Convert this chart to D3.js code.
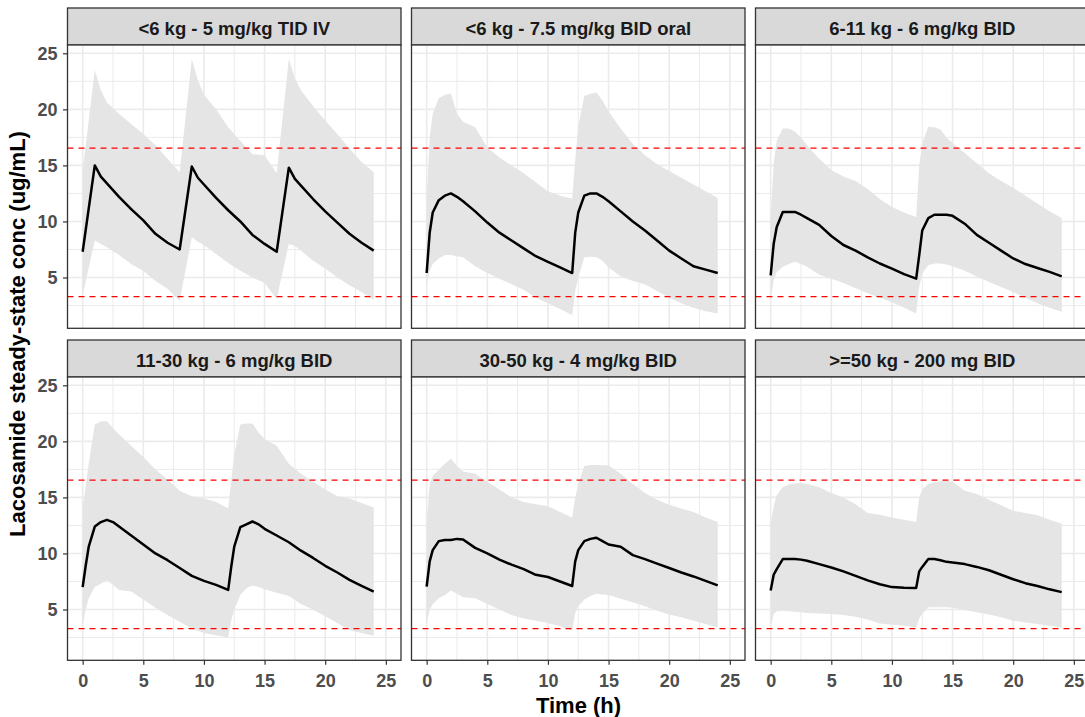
<!DOCTYPE html>
<html>
<head>
<meta charset="utf-8">
<script src="https://cdn.jsdelivr.net/npm/d3@7"></script>
<style>
  html, body { margin: 0; padding: 0; background: #ffffff; }
  svg { display: block; font-family: "Liberation Sans", Arial, sans-serif; }
</style>
</head>
<body>
<div id="chart"></div>
<script>
// ---------------- DATA ----------------
const panelTitles = [
  "<6 kg - 5 mg/kg TID IV",
  "<6 kg - 7.5 mg/kg BID oral",
  "6-11 kg - 6 mg/kg BID",
  "11-30 kg - 6 mg/kg BID",
  "30-50 kg - 4 mg/kg BID",
  ">=50 kg - 200 mg BID"
];

const xTicks = [0, 5, 10, 15, 20, 25];
const yTicks = [5, 10, 15, 20, 25];
const refLines = [16.55, 3.3];

// time grids (h)
const timeTID = [0, 1, 1.5, 2, 3, 4, 5, 6, 7, 8, 9, 9.5, 10, 11, 12, 13, 14, 15, 16, 17, 17.5, 18, 19, 20, 21, 22, 23, 24];
const timeBID = [0, 0.25, 0.5, 1, 1.5, 2, 2.5, 3, 4, 5, 6, 7, 8, 9, 10, 11, 12, 12.25, 12.5, 13, 13.5, 14, 14.5, 15, 16, 17, 18, 19, 20, 21, 22, 23, 24];

// Panel 1: <6 kg - 5 mg/kg TID IV
const p1Median = [7.3, 15.0, 14.0, 13.4, 12.2, 11.1, 10.1, 8.9, 8.1, 7.5, 14.9, 13.9, 13.3, 12.1, 11.0, 10.0, 8.8, 8.0, 7.3, 14.8, 13.8, 13.2, 12.0, 10.9, 9.9, 8.9, 8.1, 7.4];
const p1Lower  = [3.4, 8.3, 8.0, 7.7, 7.0, 6.2, 5.6, 4.7, 4.0, 2.9, 8.6, 8.2, 7.9, 7.1, 6.3, 5.6, 5.0, 4.5, 3.1, 8.0, 7.8, 7.4, 6.5, 5.8, 5.0, 4.3, 3.7, 3.0];
const p1Upper  = [14.5, 23.5, 21.7, 20.6, 19.6, 18.7, 17.8, 16.8, 15.6, 14.4, 24.5, 22.6, 21.3, 20.0, 18.4, 17.2, 16.0, 15.9, 14.3, 24.5, 22.8, 21.7, 20.3, 19.0, 17.8, 16.5, 15.3, 14.4];

// Panel 2: <6 kg - 7.5 mg/kg BID oral
const p2Median = [5.4, 9.0, 10.8, 11.9, 12.3, 12.5, 12.2, 11.8, 10.9, 9.9, 9.0, 8.3, 7.6, 6.9, 6.4, 5.9, 5.4, 9.0, 10.8, 12.3, 12.5, 12.5, 12.2, 11.8, 10.9, 10.0, 9.2, 8.3, 7.4, 6.7, 6.0, 5.7, 5.4];
const p2Lower  = [4.4, 5.6, 6.2, 6.7, 7.0, 7.0, 6.9, 6.8, 6.0, 5.4, 4.9, 4.4, 3.9, 3.2, 2.7, 2.2, 1.65, 3.8, 5.0, 6.8, 6.85, 6.8, 6.5, 5.9, 5.1, 4.7, 4.4, 3.8, 3.2, 2.7, 2.3, 2.0, 1.8];
const p2Upper  = [12.1, 17.5, 19.6, 21.0, 21.3, 21.4, 19.6, 18.9, 18.4, 16.6, 15.7, 15.0, 14.3, 13.5, 12.7, 12.3, 12.05, 15.5, 18.5, 21.2, 21.4, 21.5, 20.8, 19.8, 18.3, 16.9, 15.9, 15.1, 14.5, 13.9, 13.3, 12.7, 12.1];

// Panel 3: 6-11 kg - 6 mg/kg BID
const p3Median = [5.2, 8.0, 9.5, 10.85, 10.85, 10.85, 10.6, 10.3, 9.7, 8.7, 7.9, 7.4, 6.8, 6.25, 5.8, 5.3, 4.9, 7.0, 9.2, 10.3, 10.6, 10.6, 10.6, 10.5, 9.8, 8.8, 8.1, 7.4, 6.7, 6.2, 5.85, 5.5, 5.1];
const p3Lower  = [3.0, 4.8, 5.5, 5.95, 6.2, 6.4, 6.2, 5.95, 5.25, 4.9, 4.5, 4.05, 3.6, 3.2, 2.8, 2.3, 1.8, 4.2, 5.35, 6.1, 6.25, 6.25, 6.15, 6.0, 5.6, 5.1, 4.6, 4.15, 3.7, 3.2, 2.7, 2.3, 1.95];
const p3Upper  = [10.4, 15.2, 17.2, 18.3, 18.3, 18.0, 17.5, 16.8, 15.6, 14.6, 14.0, 13.6, 12.9, 12.0, 11.3, 10.8, 10.4, 15.0, 17.0, 18.45, 18.4, 18.2, 17.5, 17.0, 16.1, 15.2, 14.3, 13.6, 13.0, 12.3, 11.6, 10.9, 10.3];

// Panel 4: 11-30 kg - 6 mg/kg BID
const p4Median = [7.0, 8.9, 10.6, 12.4, 12.8, 13.0, 12.8, 12.4, 11.6, 10.8, 10.0, 9.4, 8.7, 8.0, 7.55, 7.2, 6.75, 8.8, 10.6, 12.35, 12.6, 12.85, 12.6, 12.2, 11.6, 11.0, 10.25, 9.6, 8.9, 8.3, 7.65, 7.1, 6.6];
const p4Lower  = [3.6, 5.0, 6.0, 7.0, 7.3, 7.6, 7.2, 6.75, 6.6, 5.9, 5.15, 4.5, 3.9, 3.3, 2.9, 2.7, 2.5, 4.0, 5.0, 6.3, 6.9, 7.15, 7.0, 6.8, 6.5, 6.2, 5.5, 5.0, 4.4, 3.8, 3.15, 2.9, 2.65];
const p4Upper  = [14.1, 16.0, 18.0, 21.5, 21.8, 21.8, 21.2, 20.6, 19.6, 18.6, 17.5, 16.6, 15.6, 15.1, 14.9, 14.6, 14.0, 16.5, 18.8, 21.5, 21.6, 21.6, 20.8, 20.2, 19.6, 18.0, 17.1, 16.4, 15.7, 15.1, 14.9, 14.5, 14.1];

// Panel 5: 30-50 kg - 4 mg/kg BID
const p5Median = [7.05, 9.3, 10.3, 11.1, 11.2, 11.2, 11.3, 11.25, 10.5, 10.0, 9.45, 9.0, 8.6, 8.1, 7.9, 7.5, 7.1, 9.3, 10.3, 11.1, 11.3, 11.4, 11.1, 10.8, 10.6, 9.85, 9.5, 9.1, 8.7, 8.3, 7.95, 7.55, 7.15];
const p5Lower  = [3.7, 5.0, 5.5, 6.0, 6.3, 6.7, 6.4, 6.1, 6.0, 5.5, 5.0, 4.5, 4.2, 4.0, 3.8, 3.5, 3.1, 4.7, 5.3, 5.9, 6.2, 6.4, 6.35, 6.3, 5.95, 5.65, 5.3, 4.9, 4.55, 4.3, 4.0, 3.7, 3.4];
const p5Upper  = [12.8, 16.2, 16.9, 17.5, 18.0, 18.45, 17.8, 17.3, 17.1, 16.4, 15.7, 15.0, 14.6, 14.4, 14.2, 13.7, 13.2, 15.0, 16.2, 17.8, 17.9, 17.9, 17.9, 17.85, 17.1, 16.2, 15.4, 14.8, 14.35, 14.0, 13.7, 13.2, 12.8];

// Panel 6: >=50 kg - 200 mg BID
const p6Median = [6.7, 8.1, 8.6, 9.5, 9.5, 9.5, 9.45, 9.35, 9.05, 8.75, 8.4, 8.0, 7.6, 7.25, 7.0, 6.95, 6.93, 8.4, 8.8, 9.5, 9.5, 9.4, 9.25, 9.2, 9.05, 8.8, 8.5, 8.1, 7.7, 7.35, 7.1, 6.8, 6.55];
const p6Lower  = [3.4, 4.6, 4.85, 4.9, 4.85, 4.8, 4.75, 4.7, 4.65, 4.6, 4.5, 4.35, 4.1, 3.75, 3.65, 3.55, 3.4, 4.2, 4.6, 5.2, 5.2, 5.2, 5.2, 5.15, 4.95, 4.75, 4.55, 4.3, 4.0, 3.85, 3.7, 3.55, 3.4];
const p6Upper  = [12.7, 14.2, 15.2, 15.9, 16.15, 16.25, 16.3, 16.2, 15.9, 15.4, 15.0, 14.4, 13.6, 13.45, 13.2, 13.0, 12.8, 15.0, 15.7, 16.2, 16.35, 16.45, 16.5, 16.4, 15.6, 15.3, 14.8, 14.3, 13.8, 13.6, 13.4, 13.0, 12.65];

const panels = [
  { title: panelTitles[0], time: timeTID, median: p1Median, lower: p1Lower, upper: p1Upper },
  { title: panelTitles[1], time: timeBID, median: p2Median, lower: p2Lower, upper: p2Upper },
  { title: panelTitles[2], time: timeBID, median: p3Median, lower: p3Lower, upper: p3Upper },
  { title: panelTitles[3], time: timeBID, median: p4Median, lower: p4Lower, upper: p4Upper },
  { title: panelTitles[4], time: timeBID, median: p5Median, lower: p5Lower, upper: p5Upper },
  { title: panelTitles[5], time: timeBID, median: p6Median, lower: p6Lower, upper: p6Upper }
];

// ---------------- LAYOUT ----------------
const W = 1085, H = 717;
const left0 = 67.5, top0 = 8;
const stripH = 37, panelW = 333.5, panelH = 283.3;
const colStep = 344, rowStep = 332;
const FONT = '"Liberation Sans", Arial, sans-serif';

const svg = d3.select("#chart").append("svg")
  .attr("width", W).attr("height", H);
svg.append("rect").attr("width", W).attr("height", H).attr("fill", "#ffffff");

const x = d3.scaleLinear().domain([-1.25, 26.25]).range([0, panelW]);
const y = d3.scaleLinear().domain([0.47, 25.74]).range([panelH, 0]);

const xMinor = [2.5, 7.5, 12.5, 17.5, 22.5];
const yMinor = [2.5, 7.5, 12.5, 17.5, 22.5];

panels.forEach((p, i) => {
  const col = i % 3, row = Math.floor(i / 3);
  const gx = left0 + col * colStep;
  const gy = top0 + row * rowStep;

  // strip
  const strip = svg.append("g").attr("transform", `translate(${gx},${gy})`);
  strip.append("rect").attr("width", panelW).attr("height", stripH)
    .attr("fill", "#D9D9D9").attr("stroke", "#333333").attr("stroke-width", 1.3);
  strip.append("text").attr("x", panelW / 2).attr("y", 27)
    .attr("text-anchor", "middle").attr("font-size", 18.5).attr("font-weight", "bold")
    .attr("fill", "#1A1A1A").text(p.title);

  const g = svg.append("g").attr("transform", `translate(${gx},${gy + stripH})`);
  g.append("rect").attr("width", panelW).attr("height", panelH).attr("fill", "#ffffff");

  // grid
  const grid = g.append("g");
  grid.selectAll("line.xmin").data(xMinor).enter().append("line")
    .attr("x1", d => x(d)).attr("x2", d => x(d)).attr("y1", 0).attr("y2", panelH)
    .attr("stroke", "#EBEBEB").attr("stroke-width", 1);
  grid.selectAll("line.ymin").data(yMinor).enter().append("line")
    .attr("y1", d => y(d)).attr("y2", d => y(d)).attr("x1", 0).attr("x2", panelW)
    .attr("stroke", "#EBEBEB").attr("stroke-width", 1);
  grid.selectAll("line.xmaj").data(xTicks).enter().append("line")
    .attr("x1", d => x(d)).attr("x2", d => x(d)).attr("y1", 0).attr("y2", panelH)
    .attr("stroke", "#EBEBEB").attr("stroke-width", 1.6);
  grid.selectAll("line.ymaj").data(yTicks).enter().append("line")
    .attr("y1", d => y(d)).attr("y2", d => y(d)).attr("x1", 0).attr("x2", panelW)
    .attr("stroke", "#EBEBEB").attr("stroke-width", 1.6);

  // ribbon
  const rows = p.time.map((t, k) => ({ t, m: p.median[k], lo: p.lower[k], hi: p.upper[k] }));
  const area = d3.area().x(d => x(d.t)).y0(d => y(d.lo)).y1(d => y(d.hi));
  g.append("path").datum(rows).attr("d", area).attr("fill", "#E5E5E5");

  // reference lines
  g.selectAll("line.ref").data(refLines).enter().append("line")
    .attr("x1", 0).attr("x2", panelW).attr("y1", d => y(d)).attr("y2", d => y(d))
    .attr("stroke", "#FF0000").attr("stroke-width", 1.3).attr("stroke-dasharray", "6,5");

  // median line
  const line = d3.line().x(d => x(d.t)).y(d => y(d.m));
  g.append("path").datum(rows).attr("d", line).attr("fill", "none")
    .attr("stroke", "#000000").attr("stroke-width", 2.5).attr("stroke-linejoin", "round");

  // border
  g.append("rect").attr("width", panelW).attr("height", panelH)
    .attr("fill", "none").attr("stroke", "#333333").attr("stroke-width", 1.3);

  // axes
  if (col === 0) {
    const ya = g.append("g").call(d3.axisLeft(y).tickValues(yTicks).tickSize(4.5).tickPadding(5.5));
    ya.select(".domain").remove();
    ya.selectAll(".tick line").attr("stroke", "#333333").attr("stroke-width", 1.2);
    ya.selectAll(".tick text").attr("font-family", FONT).attr("font-size", 18)
      .attr("font-weight", "bold").attr("fill", "#4D4D4D");
  }
  if (row === 1) {
    const xa = g.append("g").attr("transform", `translate(0,${panelH})`)
      .call(d3.axisBottom(x).tickValues(xTicks).tickSize(4.5).tickPadding(9));
    xa.select(".domain").remove();
    xa.selectAll(".tick line").attr("stroke", "#333333").attr("stroke-width", 1.2);
    xa.selectAll(".tick text").attr("font-family", FONT).attr("font-size", 18)
      .attr("font-weight", "bold").attr("fill", "#4D4D4D");
  }
});

// axis titles
svg.append("text").attr("x", 578.5).attr("y", 713).attr("text-anchor", "middle")
  .attr("font-size", 22).attr("font-weight", "bold").attr("fill", "#000000").text("Time (h)");
svg.append("text").attr("transform", "translate(25,334) rotate(-90)").attr("text-anchor", "middle")
  .attr("font-size", 22).attr("font-weight", "bold").attr("fill", "#000000")
  .text("Lacosamide steady-state conc (ug/mL)");
</script>
</body>
</html>
